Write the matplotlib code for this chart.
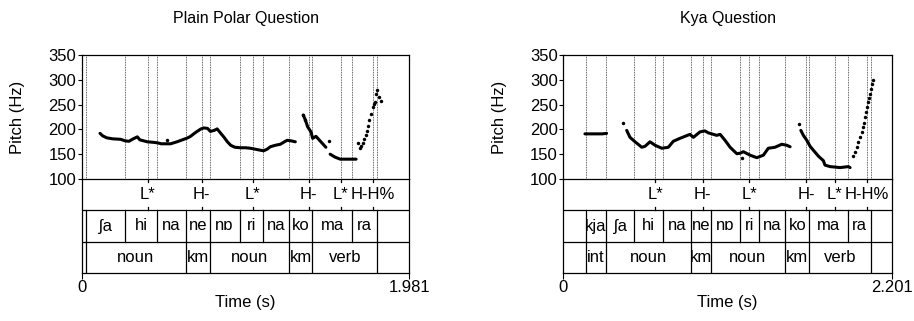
import matplotlib
matplotlib.use('Agg')
import matplotlib.pyplot as plt

plt.rcParams['font.family'] = ['Liberation Sans', 'DejaVu Sans']

# ---- plain polar question ----
left_title = 'Plain Polar Question'
left_dur = 1.981
left_syl_bounds = [0.024, 0.260, 0.455, 0.628, 0.773, 0.954, 1.096, 1.254, 1.395, 1.637, 1.786]
left_syl_labels = ['', 'ʃa', 'hi', 'na', 'ne', 'nɒ', 'ri', 'na', 'ko', 'ma', 'ra', '']
left_word_bounds = [0.024, 0.628, 0.773, 1.254, 1.395, 1.786]
left_word_labels = ['', 'noun', 'km', 'noun', 'km', 'verb', '']
left_tone_times = [0.397, 0.725, 1.034, 1.373, 1.567, 1.762]
left_tone_labels = ['L*', 'H-', 'L*', 'H-', 'L*', 'H-H%']

left_seg1_t = [0.109, 0.125, 0.150, 0.185, 0.234, 0.260, 0.284, 0.310, 0.335, 0.350, 0.395,
               0.430, 0.455, 0.480, 0.495, 0.536, 0.575, 0.616, 0.640, 0.657, 0.680, 0.697,
               0.720, 0.737, 0.760, 0.777, 0.800, 0.818, 0.840, 0.860, 0.880, 0.900, 0.925,
               0.959, 0.990, 1.019, 1.050, 1.080, 1.100, 1.120, 1.140, 1.170, 1.200, 1.225,
               1.242, 1.265, 1.291]
left_seg1_f = [192, 187, 183, 181, 180, 177, 176, 181, 185, 179, 175,
               174, 173, 171, 171, 171, 175, 180, 183, 186, 192, 196,
               201, 203, 202, 196, 198, 201, 192, 184, 175, 168, 164,
               163, 163, 162, 160, 158, 157, 160, 165, 168, 170, 175,
               178, 177, 175]
left_seg2_t = [1.339, 1.352, 1.366, 1.386, 1.396, 1.416, 1.446, 1.476]
left_seg2_f = [229, 219, 205, 195, 182, 186, 175, 164]
left_seg3_t = [1.502, 1.532, 1.563, 1.593, 1.623, 1.659]
left_seg3_f = [150, 144, 140, 140, 140, 140]
left_rise_t = [1.668, 1.680, 1.690, 1.700, 1.708, 1.716, 1.724, 1.732, 1.740, 1.750,
               1.760, 1.768, 1.776, 1.782, 1.788, 1.798, 1.808]
left_rise_f = [172, 162, 166, 172, 180, 188, 197, 206, 219, 232, 245, 252, 255, 272, 280, 265, 257]
left_stray_t = [0.515, 1.496]
left_stray_f = [178, 176]

# ---- kya question ----
right_title = 'Kya Question'
right_dur = 2.201
right_syl_bounds = [0.150, 0.288, 0.476, 0.670, 0.856, 0.988, 1.183, 1.312, 1.488, 1.649, 1.907, 2.063]
right_syl_labels = ['', 'kja', 'ʃa', 'hi', 'na', 'ne', 'nɒ', 'ri', 'na', 'ko', 'ma', 'ra', '']
right_word_bounds = [0.150, 0.288, 0.856, 0.988, 1.488, 1.649, 2.063]
right_word_labels = ['', 'int', 'noun', 'km', 'noun', 'km', 'verb', '']
right_tone_times = [0.617, 0.935, 1.245, 1.626, 1.818, 2.034]
right_tone_labels = ['L*', 'H-', 'L*', 'H-', 'L*', 'H-H%']

right_seg1_t = [0.145, 0.170, 0.200, 0.230, 0.260, 0.290]
right_seg1_f = [191, 191, 191, 191, 191, 192]
right_seg2_t = [0.425, 0.447, 0.481, 0.526, 0.548, 0.581, 0.615, 0.660, 0.704, 0.737,
                0.782, 0.849, 0.872, 0.916, 0.949, 0.972, 1.006, 1.028, 1.051, 1.084,
                1.118, 1.163, 1.185, 1.207, 1.252, 1.297, 1.341, 1.374, 1.419, 1.464,
                1.498, 1.520]
right_seg2_f = [198, 184, 175, 164, 166, 175, 168, 162, 164, 176,
                182, 190, 184, 195, 197, 193, 190, 188, 190, 178,
                164, 151, 152, 155, 148, 143, 148, 162, 164, 170,
                168, 165]
right_seg3_t = [1.592, 1.609, 1.632, 1.654, 1.676, 1.710, 1.743, 1.754, 1.788, 1.855,
                1.911, 1.922]
right_seg3_f = [198, 188, 178, 166, 158, 146, 137, 128, 125, 123, 125, 123]
right_rise_t = [1.944, 1.956, 1.967, 1.978, 1.989, 2.000, 2.007, 2.018, 2.023, 2.029,
                2.034, 2.041, 2.047, 2.056, 2.061, 2.067, 2.074]
right_rise_f = [146, 155, 164, 175, 185, 195, 204, 213, 224, 235, 245, 255, 264, 272, 282, 291, 300]
right_stray_t = [0.402, 1.196, 1.582]
right_stray_f = [213, 142, 210]

W, H = 914, 321
fig = plt.figure(figsize=(W / 100, H / 100), dpi=100)


def box(x0, x1, ytop, ybot):
  return [x0 / W, 1 - ybot / H, (x1 - x0) / W, (ybot - ytop) / H]


def panel(x0, x1, title, dur, syl_b, syl_l, word_b, word_l, tone_t, tone_l, dense, sparse):
  fs = 12
  ax = fig.add_axes(box(x0, x1, 55, 179))
  ax.set_xlim(0, dur)
  ax.set_ylim(100, 350)
  ax.set_yticks(range(100, 351, 50))
  ax.set_xticks([])
  ax.tick_params(axis='y', direction='out', length=3, width=0.8, labelsize=fs, pad=1)
  ax.spines['bottom'].set_visible(False)
  for s in ('left', 'top', 'right'):
    ax.spines[s].set_linewidth(0.9)
  for t in sorted(set(syl_b) | set(tone_t)):
    ax.axvline(t, color='0.2', lw=0.6, ls=(0, (1, 1)))
  for t, f in dense:
    ax.plot(t, f, '-', color='k', lw=2.2, solid_capstyle='round', solid_joinstyle='round')
  for t, f in sparse:
    ax.plot(t, f, 'o', color='k', ms=2.5, mew=0)
  fig.text((x0 + x1) / 2 / W, 1 - 19 / H, title, ha='center', va='center', fontsize=11.5)
  fig.text((x0 - 64) / W, 1 - 117 / H, 'Pitch (Hz)', rotation=90, ha='center', va='center',
           fontsize=fs)

  tx = fig.add_axes(box(x0, x1, 179, 273))
  tx.set_xlim(0, dur)
  tx.set_ylim(0, 3)
  tx.set_yticks([])
  tx.set_xticks([0, dur])
  tx.set_xticklabels(['0', '%.3f' % dur])
  tx.tick_params(axis='x', direction='out', length=4, width=0.8, labelsize=fs, pad=1)
  for s in tx.spines.values():
    s.set_linewidth(0.9)
  tx.axhline(1, color='k', lw=0.9)
  tx.axhline(2, color='k', lw=0.9)
  tx.set_xlabel('Time (s)', fontsize=fs, labelpad=0)

  for row, bounds, labels in ((1, syl_b, syl_l), (0, word_b, word_l)):
    for b in bounds:
      tx.plot([b, b], [row, row + 1], color='k', lw=0.9)
    edges = [0] + list(bounds) + [dur]
    for i, lab in enumerate(labels):
      if lab:
        tx.text((edges[i] + edges[i + 1]) / 2, row + 0.5, lab, ha='center', va='center',
                fontsize=fs)
  for t, lab in zip(tone_t, tone_l):
    tx.plot([t, t], [2.9, 3.0], color='k', lw=0.9)
    tx.plot([t, t], [2.0, 2.12], color='k', lw=0.9)
    tx.text(t, 2.5, lab, ha='center', va='center', fontsize=fs)


panel(82, 409.3, left_title, left_dur, left_syl_bounds, left_syl_labels, left_word_bounds,
      left_word_labels, left_tone_times, left_tone_labels,
      [(left_seg1_t, left_seg1_f), (left_seg2_t, left_seg2_f), (left_seg3_t, left_seg3_f)],
      [(left_rise_t, left_rise_f), (left_stray_t, left_stray_f), (left_seg2_t[:2], left_seg2_f[:2])])

panel(563.3, 891.7, right_title, right_dur, right_syl_bounds, right_syl_labels, right_word_bounds,
      right_word_labels, right_tone_times, right_tone_labels,
      [(right_seg1_t, right_seg1_f), (right_seg2_t, right_seg2_f), (right_seg3_t, right_seg3_f)],
      [(right_rise_t, right_rise_f), (right_stray_t, right_stray_f)])

fig.savefig('out.png', dpi=100)
